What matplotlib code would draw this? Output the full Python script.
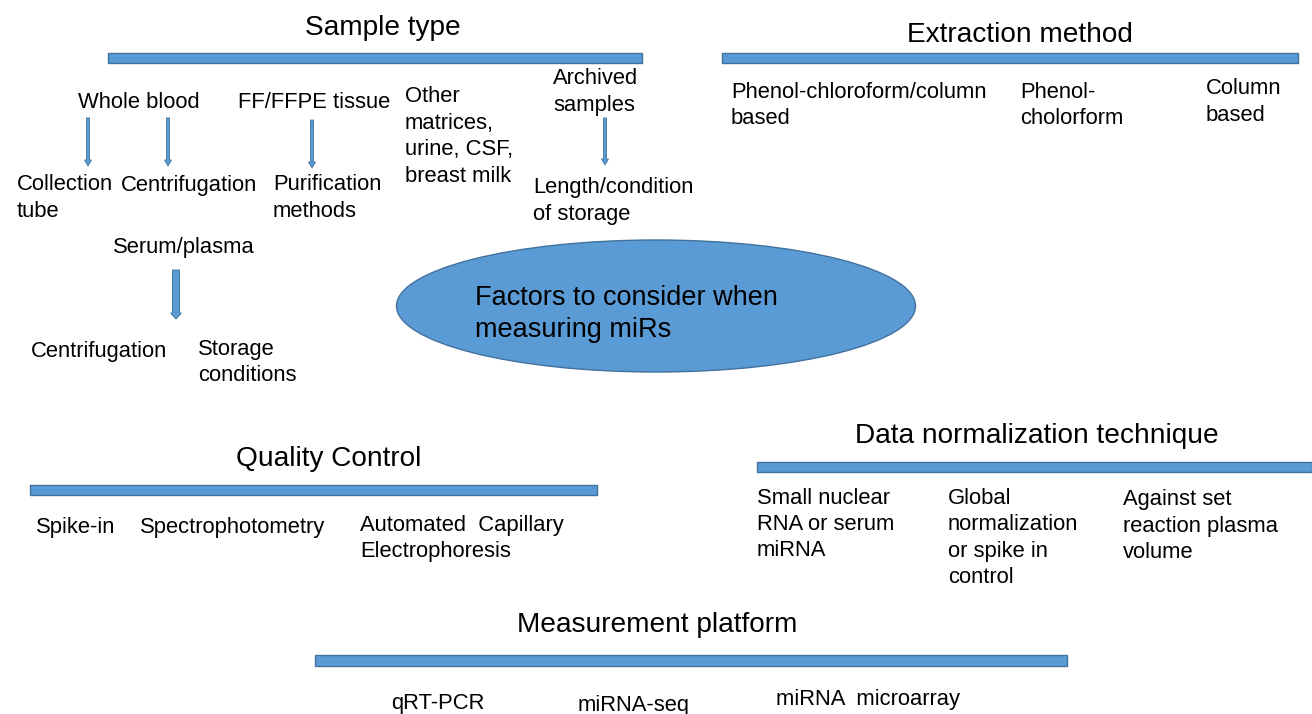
import matplotlib.pyplot as plt
from matplotlib.patches import Rectangle, Ellipse

plt.rcParams['font.family'] = ['Liberation Sans', 'DejaVu Sans']

W, H = 1312, 714
FILL = '#5B9BD5'
EDGE = '#41719C'
BODY = 15.8
HEAD = 20.2
LINE = 26.5
DY = 2  # small baseline nudge so centres match the picture

# section headings and their bars
headings = ['Sample type', 'Extraction method', 'Quality Control',
            'Data normalization technique', 'Measurement platform']
heading_xy = [(383, 25), (1020, 32), (329, 456), (1037, 433), (657, 622)]
bars = [(108, 53, 534, 10), (722, 53, 576, 10), (30, 485, 567, 10),
        (757, 462, 555, 10), (315, 655, 752, 11)]

# leaf labels
labels = [
    'Whole blood', 'FF/FFPE tissue', 'Other\nmatrices,\nurine, CSF,\nbreast milk',
    'Archived\nsamples', 'Collection\ntube', 'Centrifugation', 'Purification\nmethods',
    'Length/condition\nof storage', 'Serum/plasma', 'Centrifugation',
    'Storage\nconditions',
    'Phenol-chloroform/column\nbased', 'Phenol-\ncholorform', 'Column\nbased',
    'Small nuclear\nRNA or serum\nmiRNA', 'Global\nnormalization\nor spike in\ncontrol',
    'Against set\nreaction plasma\nvolume',
    'Spike-in', 'Spectrophotometry', 'Automated  Capillary\nElectrophoresis',
    'qRT-PCR', 'miRNA-seq', 'miRNA  microarray',
]
label_xy = [
    (78, 100), (238, 100), (405, 95),
    (553, 77), (17, 183), (121, 183), (273, 183),
    (533, 186), (113, 246), (31, 349),
    (198, 347),
    (731, 90), (1020, 90), (1206, 87),
    (757, 496), (948, 496),
    (1123, 498),
    (36, 525), (140, 526), (360, 523),
    (391, 702), (578, 703), (776, 697),
]

# arrows: x, y start, y end, shaft width
arrows = [(88, 118, 166, 3), (168, 118, 166, 3), (312, 120, 168, 3),
          (605, 118, 165, 3), (176, 270, 319, 7)]

centre_text = 'Factors to consider when\nmeasuring miRs'

fig = plt.figure(figsize=(W / 100, H / 100), dpi=100)
ax = fig.add_axes([0, 0, 1, 1])
ax.set_xlim(0, W)
ax.set_ylim(H, 0)
ax.axis('off')

for (x, y, w, h) in bars:
    ax.add_patch(Rectangle((x, y), w, h, facecolor=FILL, edgecolor=EDGE, lw=1))

for txt, (x, y) in zip(headings, heading_xy):
    ax.text(x, y + 3, txt, fontsize=HEAD, ha='center', va='center', color='black')

for txt, (x, y) in zip(labels, label_xy):
    for i, line in enumerate(txt.split('\n')):
        ax.text(x, y + DY + i * LINE, line, fontsize=BODY, ha='left', va='center',
                color='black')

for (x, y0, y1, w) in arrows:
    ax.arrow(x, y0, 0, y1 - y0, width=w, head_width=w + 4, head_length=6,
             length_includes_head=True, facecolor=FILL, edgecolor=EDGE, lw=0.6)

ax.add_patch(Ellipse((656, 306), 519, 132, facecolor=FILL, edgecolor=EDGE, lw=1))
for i, line in enumerate(centre_text.split('\n')):
    ax.text(475, 298 + i * 32, line, fontsize=19.5, ha='left', va='center',
            color='black')

fig.savefig('out.png', dpi=100)
